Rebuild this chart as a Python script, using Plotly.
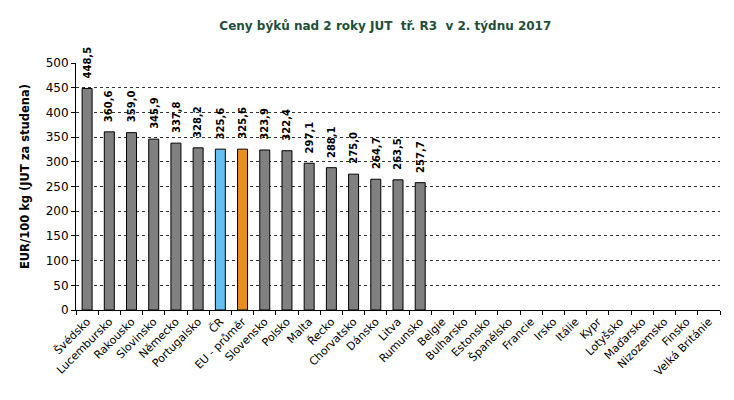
import plotly.graph_objects as go

categories = ["Švédsko", "Lucembursko", "Rakousko", "Slovinsko", "Německo", "Portugalsko",
              "ČR", "EU - průměr", "Slovensko", "Polsko", "Malta", "Řecko", "Chorvatsko",
              "Dánsko", "Litva", "Rumunsko", "Belgie", "Bulharsko", "Estonsko", "Španělsko",
              "Francie", "Irsko", "Itálie", "Kypr", "Lotyšsko", "Maďarsko", "Nizozemsko",
              "Finsko", "Velká Británie"]
values = [448.5, 360.6, 359.0, 345.9, 337.8, 328.2, 325.6, 325.6, 323.9, 322.4, 297.1,
          288.1, 275.0, 264.7, 263.5, 257.7] + [None] * 13
y_ticks = [0, 50, 100, 150, 200, 250, 300, 350, 400, 450, 500]

colors = []
for c in categories:
    if c == "ČR":
        colors.append("#66bfee")
    elif c == "EU - průměr":
        colors.append("#e88e1a")
    else:
        colors.append("#808080")

fig = go.Figure(go.Bar(
    x=categories, y=values, marker=dict(color=colors, line=dict(color="black", width=1)),
    cliponaxis=False, hoverinfo="skip"))

for c, v in zip(categories, values):
    if v is None:
        continue
    fig.add_annotation(x=c, y=v, xref="x", yref="y", text=("%.1f" % v).replace(".", ","),
                       textangle=-90, showarrow=False, xanchor="center", yanchor="middle",
                       yshift=26, font=dict(family="DejaVu Sans", size=10, color="black",
                                            weight="bold"))

fig.add_annotation(xref="paper", yref="paper", x=-0.08, y=0.54, xanchor="center",
                   yanchor="middle", textangle=-90, showarrow=False,
                   text="EUR/100 kg (JUT za studena)",
                   font=dict(size=11.5, family="DejaVu Sans", weight="bold", color="black"))

fig.update_layout(
    width=734, height=400, margin=dict(l=76, r=14, t=63, b=90),
    paper_bgcolor="white", plot_bgcolor="white", showlegend=False, bargap=0.55,
    title=dict(text="Ceny býků nad 2 roky JUT  tř. R3  v 2. týdnu 2017",
               x=0.525, xanchor="center", y=0.935, yanchor="middle",
               font=dict(family="DejaVu Sans", size=12, color="#1f4f3a", weight="bold")),
    font=dict(family="DejaVu Sans", size=10, color="black"),
)
fig.update_yaxes(range=[0, 500], tickvals=y_ticks, showgrid=True, gridcolor="#333333",
                 griddash="dot", gridwidth=1, showline=True, linecolor="black", linewidth=1,
                 ticks="outside", ticklen=4, tickcolor="black", zeroline=False,
                 tickfont=dict(size=12, family="DejaVu Sans"))
fig.update_xaxes(showline=True, linecolor="black", linewidth=1, ticks="outside", ticklen=4,
                 tickcolor="black", tickson="boundaries", tickangle=-45,
                 tickfont=dict(size=11, family="DejaVu Sans"), showgrid=False,
                 range=[-0.5, len(categories) - 0.5])
fig.write_html("out.html")
